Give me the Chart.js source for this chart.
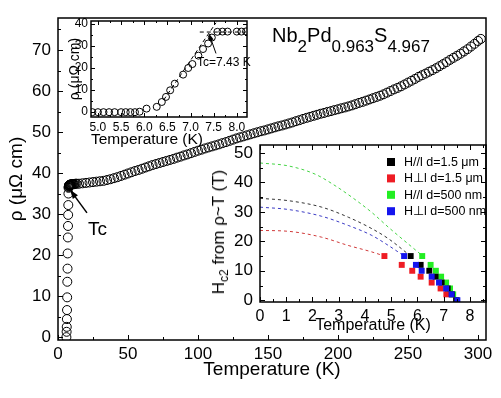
<!DOCTYPE html>
<html lang="en">
<head>
<meta charset="UTF-8">
<title>Nb2Pd0.963S4.967 resistivity</title>
<script src="https://cdn.jsdelivr.net/npm/chart.js"></script>
<style>
  body { margin: 0; background: #fff; }
  #wrap { position: relative; width: 501px; height: 398px; font-family: "Liberation Sans", Arial, sans-serif; }
  canvas { position: absolute; left: 0; top: 0; }
  .lbl { position: absolute; white-space: nowrap; color: #000; font-family: "Liberation Sans", Arial, sans-serif; }
  #formula { left: 272px; top: 25px; font-size: 20px; line-height: 1; }
  #formula sub { font-size: 17px; vertical-align: -10px; line-height: 1; }
  #hclabel { left: 220px; top: 232px; font-size: 17px; line-height: 1; transform: translate(-50%, -50%) rotate(-90deg); }
  #hclabel sub { font-size: 12px; vertical-align: -4px; line-height: 1; }
</style>
</head>
<body>
<div id="wrap">
  <canvas id="main" width="501" height="398"></canvas>
  <canvas id="rt" width="501" height="398"></canvas>
  <canvas id="hc" width="501" height="398"></canvas>
  <div class="lbl" id="formula">Nb<sub>2</sub>Pd<sub>0.963</sub>S<sub>4.967</sub></div>
  <div class="lbl" id="hclabel">H<sub>c2</sub> from ρ~T (T)</div>
</div>
<script>
// main curve: rho(T) from 6 K to 302 K
const mainT = [6.0, 6.15, 6.25, 6.35, 6.45, 6.55, 6.65, 6.8, 6.9, 7.05, 7.15, 7.25, 7.35, 7.45, 7.55,
  7.65, 7.75, 7.85, 7.95, 8.1, 8.25, 8.4, 8.6, 8.8, 9.0, 9.3, 9.6, 9.9, 10.3, 10.7, 11.2, 11.8, 12.5, 13.3,
  15, 17.5, 20, 22.5, 25, 27.5, 30, 32.5, 35, 37.5, 40, 42.5, 45, 47.5, 50, 52.5, 55, 57.5, 60, 62.5, 65, 67.5,
  70, 72.5, 75, 77.5, 80, 82.5, 85, 87.5, 90, 92.5, 95, 97.5, 100, 102.5, 105, 107.5, 110, 112.5, 115, 117.5,
  120, 122.5, 125, 127.5, 130, 132.5, 135, 137.5, 140, 142.5, 145, 147.5, 150, 152.5, 155, 157.5, 160, 162.5,
  165, 167.5, 170, 172.5, 175, 177.5, 180, 182.5, 185, 187.5, 190, 192.5, 195, 197.5, 200, 202.5, 205, 207.5,
  210, 212.5, 215, 217.5, 220, 222.5, 225, 227.5, 230, 232.5, 235, 237.5, 240, 242.5, 245, 247.5, 250, 252.5,
  255, 257.5, 260, 262.5, 265, 267.5, 270, 272.5, 275, 277.5, 280, 282.5, 285, 287.5, 290, 292.5, 295, 297.5,
  300, 302];
const mainRho = [0, 1.3, 2.5, 4.4, 6.6, 9.7, 13.5, 16.7, 20.4, 24.3, 27.1, 29.8, 32.2, 35.0, 36.4,
  36.6, 36.8, 36.9, 37.0, 37.0, 37.1, 37.1, 37.1, 37.2, 37.2, 37.2, 37.2, 37.3, 37.3, 37.3, 37.3, 37.3, 37.4, 37.4,
  37.4, 37.5, 37.6, 37.7, 37.8, 37.9, 38.0, 38.1, 38.3, 38.5, 38.75, 39.0, 39.3, 39.6, 39.9, 40.2, 40.5, 40.75, 41.05, 41.35, 41.65, 41.95,
  42.2, 42.45, 42.7, 42.95, 43.2, 43.45, 43.75, 44.0, 44.3, 44.55, 44.85, 45.15, 45.45, 45.7, 46.0, 46.25, 46.5, 46.75, 47.0, 47.3,
  47.55, 47.85, 48.15, 48.45, 48.7, 48.95, 49.2, 49.45, 49.7, 49.95, 50.2, 50.4, 50.65, 50.9, 51.15, 51.4, 51.6, 51.85,
  52.1, 52.35, 52.65, 52.9, 53.2, 53.45, 53.7, 53.95, 54.2, 54.45, 54.65, 54.9, 55.1, 55.35, 55.55, 55.8, 56.0, 56.25,
  56.5, 56.8, 57.1, 57.35, 57.65, 57.95, 58.25, 58.55, 58.85, 59.2, 59.6, 60.0, 60.4, 60.75, 61.15, 61.6, 62.05, 62.5,
  62.95, 63.45, 63.85, 64.25, 64.7, 65.1, 65.55, 66.05, 66.55, 67.05, 67.6, 68.1, 68.6, 69.1, 69.65, 70.2, 70.85, 71.5,
  72.2, 72.7];
const mainXTicks = [0, 50, 100, 150, 200, 250, 300];
const mainYTicks = [0, 10, 20, 30, 40, 50, 60, 70];

// inset: transition region
const rtT = [4.88, 5.0, 5.12, 5.24, 5.36, 5.5, 5.6, 5.7, 5.8, 5.9, 6.05, 6.27, 6.38, 6.47, 6.56, 6.66, 6.84, 6.95,
  7.04, 7.17, 7.27, 7.38, 7.46, 7.58, 7.69, 7.8, 8.0, 8.1, 8.2];
const rtRho = [0, 0, 0, 0, 0, 0, 0, 0, 0, 0.2, 1.6, 2.4, 4.6, 6.9, 9.9, 12.9, 17.0, 20.0,
  21.8, 25.6, 28.6, 31.1, 33.8, 36.4, 36.5, 36.5, 36.5, 36.5, 36.6];
const rtFitT = [6.42, 7.55];
const rtFitRho = [5.5, 40.5];
const rtFlatT = [7.2, 8.2];
const rtFlatRho = [36.3, 36.3];
const rtXTicks = [5.0, 5.5, 6.0, 6.5, 7.0, 7.5, 8.0];
const rtYTicks = [0, 10, 20, 30, 40];

// inset: Hc2 vs T
const hcLabels = ['H//l d=1.5 μm', 'H⊥l d=1.5 μm', 'H//l d=500 nm', 'H⊥l d=500 nm'];
const hcColors = ['#000000', '#ee1c24', '#22ee22', '#1515ee'];
const hcFitColors = ['#333333', '#d03a3a', '#44d444', '#3a3ac4'];
const hcT = [
  [5.74, 6.12, 6.45, 6.69, 6.92, 7.15, 7.31, 7.47],
  [4.74, 5.40, 5.80, 6.12, 6.54, 6.88, 7.10],
  [6.18, 6.50, 6.70, 6.90, 7.09, 7.24, 7.36, 7.50],
  [5.49, 5.94, 6.16, 6.54, 6.82, 7.09, 7.30, 7.52]
];
const hcH = [
  [15, 12, 10, 8, 6, 4, 2, 0],
  [15, 12, 10, 8, 6, 4, 2],
  [15, 12, 10, 8, 6, 4, 2, 0],
  [15, 12, 10, 8, 6, 4, 2, 0]
];
const fitT = [
  [0, 1.08, 2.35, 3.36, 4.26, 4.89, 5.74],
  [0, 1.08, 2.35, 3.36, 4.26, 4.74],
  [0, 1.08, 2.1, 2.86, 3.62, 4.26, 4.89, 6.2],
  [0, 1.08, 2.35, 3.36, 4.26, 4.89, 5.49]
];
const fitH = [
  [34.6, 33.8, 31.6, 28.2, 24.3, 20.9, 15],
  [23.7, 23.4, 21.4, 18.6, 16.4, 15],
  [46.6, 45.6, 42.8, 38.9, 34.2, 29.8, 24.8, 15],
  [31.6, 30.8, 28.5, 25.4, 22.0, 18.6, 15]
];
const hcXTicks = [0, 1, 2, 3, 4, 5, 6, 7, 8];
const hcYTicks = [0, 10, 20, 30, 40, 50];

Chart.defaults.font.family = '"Liberation Sans", Arial, sans-serif';
Chart.defaults.color = '#000';

const pts = (xs, ys) => xs.map((x, i) => ({ x: x, y: ys[i] }));

// frame on all four sides with inward major/minor ticks
const frameTicks = {
  id: 'frameTicks',
  afterDatasetsDraw(chart, args, o) {
    const { ctx, chartArea: a } = chart;
    ctx.save();
    ctx.strokeStyle = '#000';
    ctx.lineWidth = 1;
    ctx.beginPath();
    [[chart.scales.x, o.xMinor], [chart.scales.y, o.yMinor]].forEach(([s, step]) => {
      const majors = s.ticks.map(t => t.value);
      const n0 = Math.ceil(s.min / step - 1e-9), n1 = Math.floor(s.max / step + 1e-9);
      for (let n = n0; n <= n1; n++) {
        const v = n * step;
        const len = majors.some(m => Math.abs(m - v) < step / 10) ? o.major : o.minor;
        const p = Math.round(s.getPixelForValue(v)) + 0.5;
        if (s.isHorizontal()) {
          ctx.moveTo(p, a.bottom); ctx.lineTo(p, a.bottom - len);
          if (o.mirror) { ctx.moveTo(p, a.top); ctx.lineTo(p, a.top + len); }
        } else {
          ctx.moveTo(a.left, p); ctx.lineTo(a.left + len, p);
          if (o.mirror) { ctx.moveTo(a.right, p); ctx.lineTo(a.right - len, p); }
        }
      }
    });
    ctx.stroke();
    ctx.lineWidth = o.width;
    ctx.strokeRect(a.left, a.top, a.right - a.left, a.bottom - a.top);
    ctx.restore();
  }
};

// arrows, labels and the legend, placed in data coordinates
const notes = {
  id: 'notes',
  afterDraw(chart, args, o) {
    const { ctx, scales: { x, y }, chartArea: a } = chart;
    ctx.save();
    ctx.fillStyle = '#000';
    ctx.strokeStyle = '#000';
    (o.arrows || []).forEach(ar => {
      const x1 = x.getPixelForValue(ar.from[0]), y1 = y.getPixelForValue(ar.from[1]);
      const x2 = x.getPixelForValue(ar.to[0]), y2 = y.getPixelForValue(ar.to[1]);
      const ang = Math.atan2(y2 - y1, x2 - x1), h = ar.head, c = Math.cos(ang), sn = Math.sin(ang);
      ctx.lineWidth = ar.width;
      ctx.beginPath();
      ctx.moveTo(x1, y1);
      ctx.lineTo(x2 - c * h * 0.8, y2 - sn * h * 0.8);
      ctx.stroke();
      ctx.beginPath();
      ctx.moveTo(x2, y2);
      ctx.lineTo(x2 - h * c + h * 0.35 * sn, y2 - h * sn - h * 0.35 * c);
      ctx.lineTo(x2 - h * c - h * 0.35 * sn, y2 - h * sn + h * 0.35 * c);
      ctx.closePath();
      ctx.fill();
    });
    (o.texts || []).forEach(t => {
      ctx.font = t.size + 'px "Liberation Sans", Arial, sans-serif';
      ctx.textAlign = 'left';
      ctx.textBaseline = 'middle';
      ctx.fillText(t.text, x.getPixelForValue(t.at[0]), y.getPixelForValue(t.at[1]));
    });
    if (o.legend) {
      const L = o.legend;
      ctx.font = L.size + 'px "Liberation Sans", Arial, sans-serif';
      ctx.textAlign = 'left';
      ctx.textBaseline = 'middle';
      chart.data.datasets.filter(d => d.legendText).forEach((d, i) => {
        const cy = a.top + L.top + i * L.gap, cx = a.left + L.left;
        ctx.fillStyle = d.pointBackgroundColor;
        ctx.fillRect(cx - L.box / 2, cy - L.box / 2, L.box, L.box);
        ctx.fillStyle = '#000';
        ctx.fillText(d.legendText, cx + L.textGap, cy + 0.5);
      });
    }
    ctx.restore();
  }
};

function axis(opts) {
  return {
    type: 'linear',
    min: opts.min,
    max: opts.max,
    afterBuildTicks: s => { s.ticks = opts.ticks.map(v => ({ value: v })); },
    afterFit: s => { if (s.isHorizontal()) s.height = opts.size; else s.width = opts.size; },
    grid: { display: false, drawTicks: false },
    border: { display: false },
    ticks: {
      padding: opts.pad, autoSkip: false, maxRotation: 0, color: '#000',
      font: { size: opts.font },
      callback: opts.fmt || (v => String(v))
    },
    title: opts.title ? {
      display: true, text: opts.title, color: '#000', align: opts.align || 'center',
      font: { size: opts.titleSize }, padding: opts.titlePad
    } : { display: false }
  };
}

const base = {
  responsive: false,
  animation: false,
  events: [],
  devicePixelRatio: 1
};

new Chart(document.getElementById('main'), {
  type: 'scatter',
  data: {
    datasets: [{
      data: pts(mainT, mainRho),
      pointStyle: 'circle', pointRadius: 4.5, pointBorderWidth: 1,
      pointBorderColor: '#000', pointBackgroundColor: 'rgba(0,0,0,0)', showLine: false
    }]
  },
  options: Object.assign({}, base, {
    layout: { padding: { left: 0, top: 18, right: 15, bottom: 0 } },
    scales: {
      x: axis({ min: 0, max: 305.7, ticks: mainXTicks, size: 58, pad: 4, font: 17,
        title: 'Temperature (K)', titleSize: 19, titlePad: { top: 0, bottom: 17 } }),
      y: axis({ min: -0.7, max: 77.8, ticks: mainYTicks, size: 58, pad: 7, font: 17,
        title: 'ρ (μΩ cm)', titleSize: 19, titlePad: { top: 5, bottom: 0 } })
    },
    plugins: {
      legend: { display: false }, tooltip: { enabled: false },
      frameTicks: { xMinor: 25, yMinor: 5, major: 5, minor: 3, mirror: false, width: 1.5 },
      notes: {
        arrows: [{ from: [20.7, 30.3], to: [8.6, 35.9], head: 9, width: 1.5 }],
        texts: [{ text: 'Tc', at: [21.4, 26.2], size: 19 }]
      }
    }
  }),
  plugins: [frameTicks, notes]
});

const dash = { showLine: true, pointRadius: 0, borderWidth: 1, borderColor: '#000', borderDash: [4, 3], fill: false };

new Chart(document.getElementById('rt'), {
  type: 'scatter',
  data: {
    datasets: [
      Object.assign({ data: pts(rtFitT, rtFitRho), order: 2 }, dash),
      Object.assign({ data: pts(rtFlatT, rtFlatRho), order: 2 }, dash),
      {
        data: pts(rtT, rtRho), order: 1,
        pointStyle: 'circle', pointRadius: 3.5, pointBorderWidth: 1,
        pointBorderColor: '#000', pointBackgroundColor: 'rgba(0,0,0,0)', showLine: false
      }
    ]
  },
  options: Object.assign({}, base, {
    layout: { padding: { left: 60, top: 21, right: 254, bottom: 246 } },
    scales: {
      x: axis({ min: 4.85, max: 8.22, ticks: rtXTicks, size: 35, pad: 3, font: 12, fmt: v => v.toFixed(1),
        title: 'Temperature (K)', titleSize: 15.5, align: 'start', titlePad: { top: 0, bottom: 3 } }),
      y: axis({ min: -2.2, max: 41.3, ticks: rtYTicks, size: 31, pad: 3, font: 12,
        title: 'ρ (μΩ cm)', titleSize: 14, titlePad: { top: 7, bottom: 0 } })
    },
    plugins: {
      legend: { display: false }, tooltip: { enabled: false },
      frameTicks: { xMinor: 0.25, yMinor: 5, major: 4, minor: 2, mirror: true, width: 1.5 },
      notes: {
        arrows: [{ from: [7.55, 26.6], to: [7.40, 35.6], head: 7, width: 1 }],
        texts: [{ text: 'Tc=7.43 K', at: [7.14, 22.4], size: 12 }]
      }
    }
  }),
  plugins: [frameTicks, notes]
});

const hcSets = [];
fitT.forEach((t, i) => {
  hcSets.push(Object.assign({}, dash, {
    data: pts(t, fitH[i]), borderColor: hcFitColors[i], borderDash: [3, 3],
    cubicInterpolationMode: 'monotone', order: 10
  }));
});
const drawOrder = [1, 2, 3, 0];
hcT.forEach((t, i) => {
  hcSets.push({
    data: pts(t, hcH[i]), legendText: hcLabels[i], order: drawOrder[i],
    pointStyle: 'rect', pointRadius: 4.2, pointBorderWidth: 0,
    pointBackgroundColor: hcColors[i], pointBorderColor: hcColors[i], showLine: false
  });
});

new Chart(document.getElementById('hc'), {
  type: 'scatter',
  data: { datasets: hcSets },
  options: Object.assign({}, base, {
    layout: { padding: { left: 230, top: 145, right: 15, bottom: 56 } },
    scales: {
      x: axis({ min: 0, max: 8.61, ticks: hcXTicks, size: 40, pad: 5, font: 16,
        title: 'Temperature (K)', titleSize: 16, titlePad: { top: 0, bottom: 7 } }),
      y: axis({ min: -0.6, max: 52.7, ticks: hcYTicks, size: 30, pad: 7, font: 17 })
    },
    plugins: {
      legend: { display: false }, tooltip: { enabled: false },
      frameTicks: { xMinor: 0.5, yMinor: 5, major: 5, minor: 3, mirror: true, width: 1.5 },
      notes: { legend: { left: 131, top: 17, gap: 16.4, box: 8, textGap: 13, size: 12.5 } }
    }
  }),
  plugins: [frameTicks, notes]
});
</script>
</body>
</html>
